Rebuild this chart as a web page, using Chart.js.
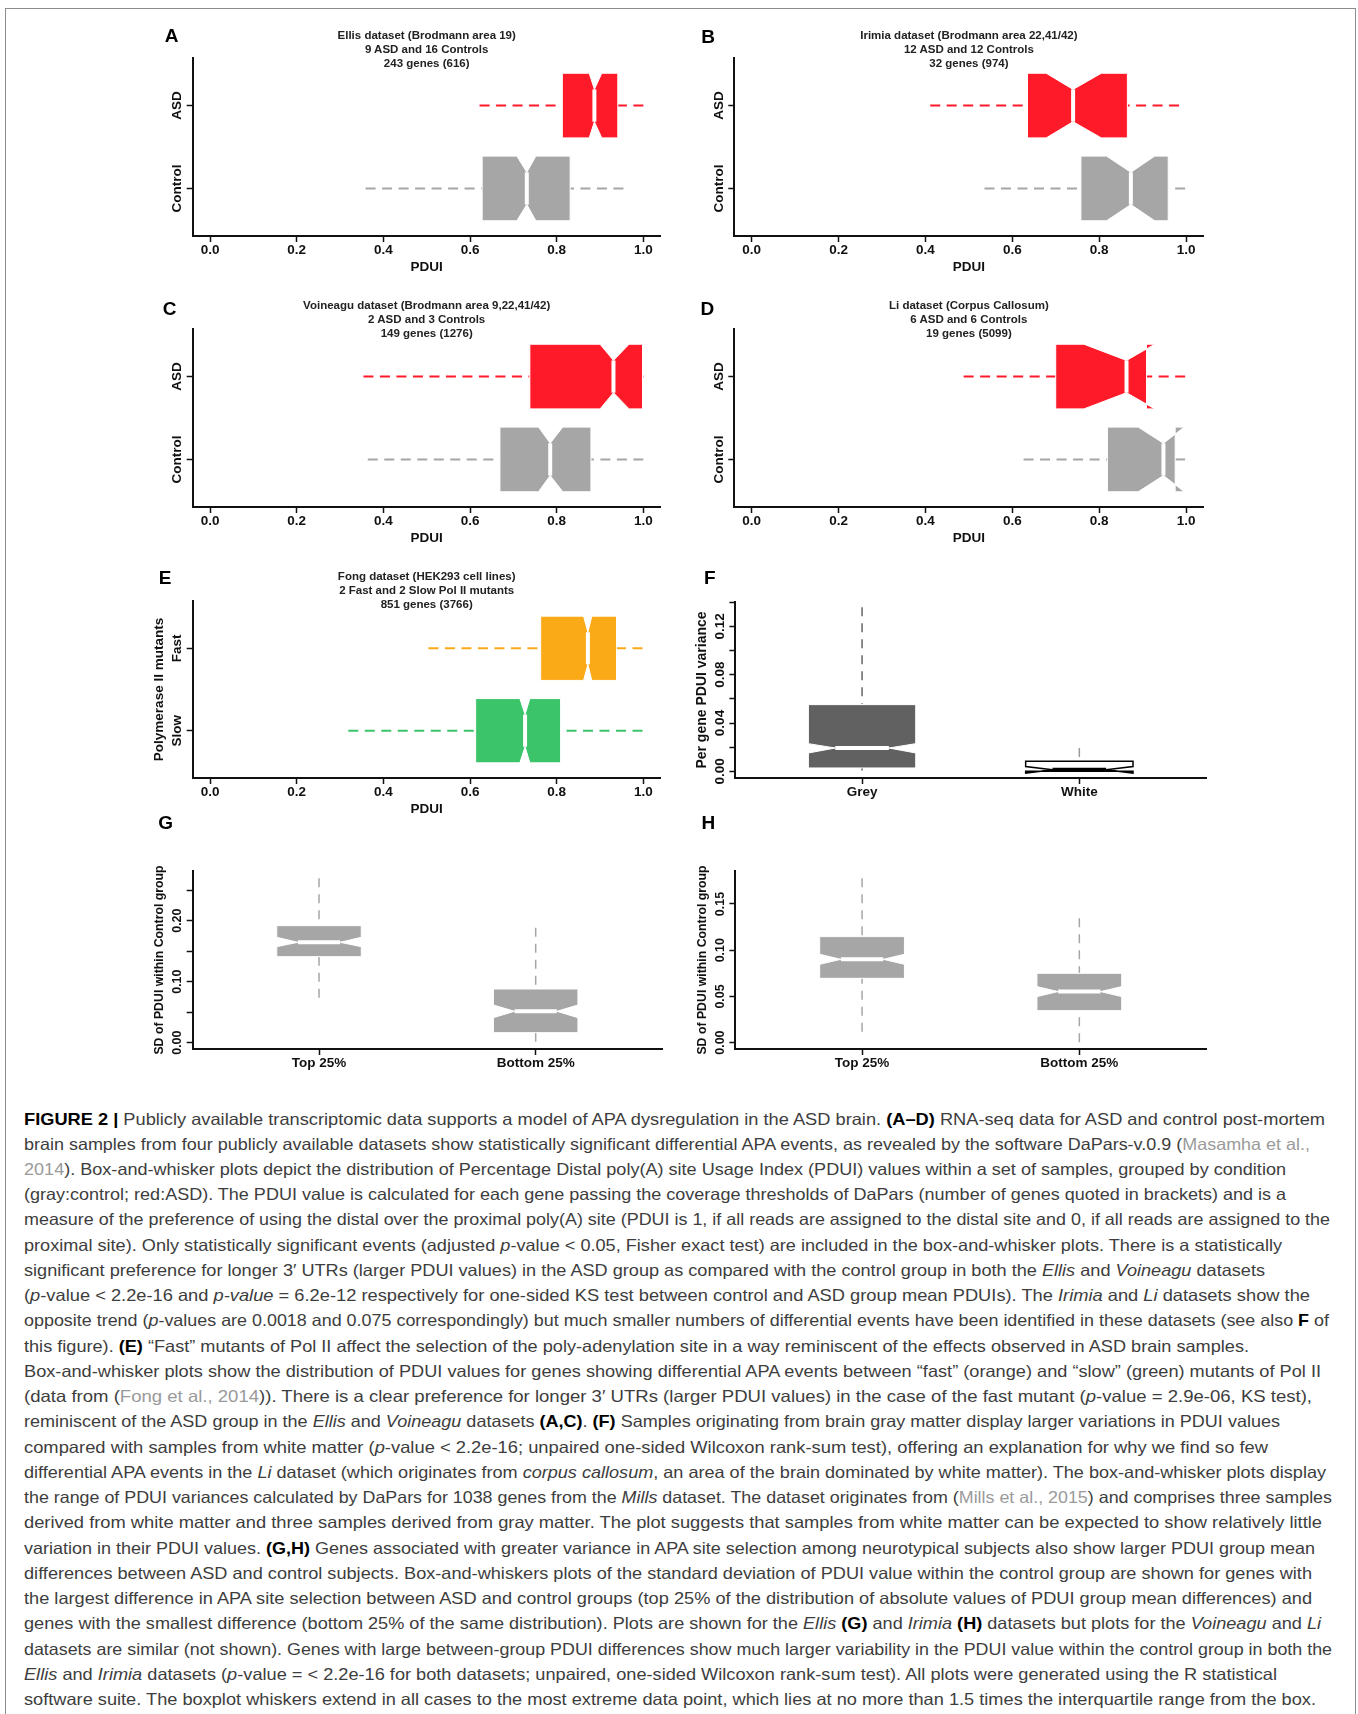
<!DOCTYPE html>
<html>
<head>
<meta charset="utf-8">
<script src="https://cdn.jsdelivr.net/npm/chart.js@4.4.0/dist/chart.umd.min.js"></script>
<style>
  html, body { margin: 0; padding: 0; background: #fff; }
  body { width: 1358px; height: 1714px; position: relative; overflow: hidden;
         font-family: "Liberation Sans", Arial, Helvetica, sans-serif; }
  #frame { position: absolute; left: 5px; top: 8px; width: 1351px; height: 1720px;
           border: 1px solid #8c8c8c; box-sizing: border-box; }
  canvas { position: absolute; }
  .letter { position: absolute; font-weight: bold; font-size: 19px; color: #000;
            transform: translate(-50%, -50%); line-height: 1; }
  .ptitle { position: absolute; font-weight: bold; font-size: 11.5px; line-height: 14.2px;
            color: #222; text-align: center; transform: translateX(-50%); white-space: nowrap; }
  .cap { position: absolute; left: 24px; white-space: nowrap; font-size: 16.5px;
         line-height: 20px; color: #3d3d3d; transform-origin: 0 50%; }
  .cap b { color: #000; }
  .cap .ref { color: #9a9a9a; }
</style>
</head>
<body>
<div id="frame"></div>
<script>
// every box: [whisker low, Q1, notch low, median, notch high, Q3, whisker high]
const pduiTicks = [0, 0.2, 0.4, 0.6, 0.8, 1.0];
const pduiTickLabels = ["0.0", "0.2", "0.4", "0.6", "0.8", "1.0"];
const asdCategories = ["Control", "ASD"];
const polCategories = ["Slow", "Fast"];

const ellisControl = [0.359, 0.628, 0.708, 0.731, 0.752, 0.831, 0.954];
const ellisAsd = [0.622, 0.813, 0.875, 0.887, 0.904, 0.941, 1.0];
const irimiaControl = [0.536, 0.758, 0.817, 0.873, 0.928, 0.959, 0.998];
const irimiaAsd = [0.411, 0.635, 0.678, 0.740, 0.805, 0.865, 0.984];
const voineaguControl = [0.364, 0.669, 0.758, 0.785, 0.814, 0.879, 1.0];
const voineaguAsd = [0.354, 0.738, 0.900, 0.931, 0.967, 0.998, 1.0];
const liControl = [0.626, 0.819, 0.890, 0.948, 0.996, 0.975, 0.998];
const liAsd = [0.488, 0.700, 0.765, 0.863, 0.928, 0.909, 0.998];
const fongSlow = [0.319, 0.613, 0.715, 0.727, 0.738, 0.809, 0.998];
const fongFast = [0.504, 0.763, 0.862, 0.872, 0.881, 0.938, 0.998];

const matterCategories = ["Grey", "White"];
const matterGrey = [0.0008, 0.0028, 0.0152, 0.0193, 0.0229, 0.0552, 0.1357];
const matterWhite = [0.0, 0.0, -0.0014, 0.0013, 0.0040, 0.0083, 0.0193];
const varianceTicks = [0, 0.02, 0.04, 0.06, 0.08, 0.10, 0.12, 0.14];
const varianceTickLabels = ["0.00", "", "0.04", "", "0.08", "", "0.12", ""];

const diffCategories = ["Top 25%", "Bottom 25%"];
const ellisSdTop = [0.0738, 0.141, 0.1574, 0.1645, 0.1727, 0.1918, 0.2694];
const ellisSdBottom = [0.0016, 0.0164, 0.041, 0.0514, 0.0617, 0.088, 0.1885];
const irimiaSdTop = [0.0119, 0.0696, 0.0847, 0.0901, 0.0956, 0.1147, 0.1778];
const irimiaSdBottom = [0.0004, 0.0346, 0.0498, 0.0552, 0.0606, 0.075, 0.1345];
const sdTicksG = [0, 0.05, 0.10, 0.15, 0.20, 0.25];
const sdTickLabelsG = ["0.00", "", "0.10", "", "0.20", ""];
const sdTicksH = [0, 0.05, 0.10, 0.15];
const sdTickLabelsH = ["0.00", "0.05", "0.10", "0.15"];

const FONT = '"Liberation Sans", Arial, Helvetica, sans-serif';
const RED = "#ff1a2a";
const GREY = "#a6a6a6";
const ORANGE = "#fbaa17";
const GREEN = "#3cc46b";
const DARK = "#616161";

Chart.defaults.font.family = FONT;
Chart.defaults.color = "#111";

// draws notched boxes from the pixel positions chart.js gave each stat point
const notched_boxes = (horizontal) => ({
  id: "notchedBoxes",
  afterDatasetsDraw(chart) {
    const { ctx } = chart;
    const catScale = horizontal ? chart.scales.y : chart.scales.x;
    chart.data.datasets.forEach((ds, i) => {
      const pts = chart.getDatasetMeta(i).data;
      const v = pts.map((p) => (horizontal ? p.x : p.y));
      const c = horizontal ? pts[0].y : pts[0].x;
      const h = Math.abs(catScale.getPixelForValue(ds.pos + ds.halfWidth) - c);
      const at = (val, off) => (horizontal ? [val, c + off] : [c + off, val]);
      ctx.save();
      ctx.strokeStyle = ds.whiskerColor;
      ctx.lineWidth = ds.whiskerWidth;
      ctx.setLineDash(ds.dash);
      [[0, 1], [6, 5]].forEach(([a, b]) => {
        ctx.beginPath();
        ctx.moveTo(...at(v[a], 0));
        ctx.lineTo(...at(v[b], 0));
        ctx.stroke();
      });
      ctx.setLineDash([]);
      const outline = [[1, -h], [2, -h], [3, -h / 2], [4, -h], [5, -h],
                       [5, h], [4, h], [3, h / 2], [2, h], [1, h]];
      ctx.beginPath();
      outline.forEach(([k, off], j) => {
        const [x, y] = at(v[k], off);
        if (j) ctx.lineTo(x, y); else ctx.moveTo(x, y);
      });
      ctx.closePath();
      ctx.fillStyle = ds.boxColor;
      ctx.fill();
      ctx.strokeStyle = ds.edgeColor;
      ctx.lineWidth = ds.edgeWidth;
      ctx.stroke();
      ctx.lineWidth = 4;
      ctx.beginPath();
      ctx.moveTo(...at(v[3], -h / 2));
      ctx.lineTo(...at(v[3], h / 2));
      ctx.stroke();
      ctx.restore();
    });
  },
});

// y tick labels in R are parallel to the axis
const rotated_y_ticks = (values, labels, size) => ({
  id: "rotatedYTicks",
  afterDraw(chart) {
    const scale = chart.scales.y;
    const { ctx } = chart;
    ctx.save();
    ctx.font = `bold ${size}px ${FONT}`;
    ctx.fillStyle = "#111";
    ctx.textAlign = "center";
    ctx.textBaseline = "middle";
    values.forEach((value, i) => {
      if (!labels[i]) return;
      ctx.save();
      ctx.translate(scale.right - 15, scale.getPixelForValue(value));
      ctx.rotate(-Math.PI / 2);
      ctx.fillText(labels[i], 0, 0);
      ctx.restore();
    });
    ctx.restore();
  },
});

const axis_style = {
  grid: { drawOnChartArea: false, drawTicks: true, tickLength: 6, tickWidth: 1.5, tickColor: "#111" },
  border: { display: true, color: "#111", width: 2 },
};

const draw_panel = (p) => {
  const [x0, x1] = p.canvasX;
  const y0 = p.area.top - 40;
  const y1 = p.area.bottom + 44;
  const canvas = document.createElement("canvas");
  canvas.width = x1 - x0;
  canvas.height = y1 - y0;
  canvas.style.left = `${x0}px`;
  canvas.style.top = `${y0}px`;
  document.body.appendChild(canvas);

  const horizontal = p.horizontal;
  const valueTicks = p.valueTicks;
  const catTicks = p.categories.map((c, i) => i + 1);

  const xTicks = horizontal ? valueTicks : catTicks;
  const xLabels = horizontal ? p.valueLabels : p.categories;
  const yTicks = horizontal ? catTicks : valueTicks;
  const yLabels = horizontal ? p.categories : p.valueLabels;

  const datasets = p.boxes.map((box, i) => ({
    data: box.stats.map((v) => (horizontal ? { x: v, y: i + 1 } : { x: i + 1, y: v })),
    pos: i + 1,
    halfWidth: p.halfWidth,
    boxColor: box.fill,
    edgeColor: box.edge || "#fff",
    edgeWidth: box.edgeWidth || 1,
    whiskerColor: box.whisker || box.fill,
    whiskerWidth: p.whiskerWidth,
    dash: p.dash,
    pointRadius: 0,
    pointHoverRadius: 0,
  }));

  const yTitlePad = p.area.left - 33 - x0 - (p.yTitleSize || 13.5) * 0.6;

  return new Chart(canvas, {
    type: "scatter",
    data: { datasets },
    options: {
      responsive: false,
      animation: false,
      events: [],
      layout: { padding: { left: 0, right: x1 - p.area.right, top: 40, bottom: 0 } },
      plugins: { legend: { display: false }, tooltip: { enabled: false } },
      scales: {
        x: {
          type: "linear",
          min: horizontal ? p.valueRange[0] : p.catRange[0],
          max: horizontal ? p.valueRange[1] : p.catRange[1],
          bounds: "data",
          afterBuildTicks: (s) => { s.ticks = xTicks.map((v) => ({ value: v })); },
          afterFit: (s) => { s.height = 44; },
          ticks: {
            autoSkip: false, maxRotation: 0, minRotation: 0, padding: 0, color: "#111",
            font: { weight: "bold", size: 13.5 },
            callback: (v, i) => xLabels[i],
          },
          ...axis_style,
          title: {
            display: !!p.xTitle, text: p.xTitle || "", color: "#111",
            font: { weight: "bold", size: 13.5 }, padding: { top: 0, bottom: 4.5 },
          },
        },
        y: {
          type: "linear",
          min: horizontal ? p.catRange[0] : p.valueRange[0],
          max: horizontal ? p.catRange[1] : p.valueRange[1],
          bounds: "data",
          afterBuildTicks: (s) => { s.ticks = yTicks.map((v) => ({ value: v })); },
          afterFit: (s) => { s.width = p.area.left - x0; },
          ticks: { display: false },
          ...axis_style,
          title: {
            display: !!p.yTitle, text: p.yTitle || "", color: "#111",
            font: { weight: "bold", size: p.yTitleSize || 13.5 },
            padding: { top: yTitlePad, bottom: 0 },
          },
        },
      },
    },
    plugins: [notched_boxes(horizontal), rotated_y_ticks(yTicks, yLabels, p.yTickSize || 13.5)],
  });
};

const LEFT_COL = [130, 675];
const RIGHT_COL = [675, 1228];

const pdui_panel = (canvasX, area, categories, boxes, yTitle) => ({
  canvasX, area, categories, boxes, yTitle,
  horizontal: true,
  valueTicks: pduiTicks, valueLabels: pduiTickLabels,
  valueRange: [-0.04, 1.04], catRange: [0.426, 2.574],
  halfWidth: 0.39, whiskerWidth: 2, dash: [10, 6.5],
  xTitle: "PDUI",
});

draw_panel(pdui_panel(LEFT_COL, { left: 192.7, right: 660.7, top: 58.3, bottom: 236.7 },
  asdCategories, [{ stats: ellisControl, fill: GREY }, { stats: ellisAsd, fill: RED }]));
draw_panel(pdui_panel(RIGHT_COL, { left: 734.3, right: 1203.4, top: 58.3, bottom: 236.7 },
  asdCategories, [{ stats: irimiaControl, fill: GREY }, { stats: irimiaAsd, fill: RED }]));
draw_panel(pdui_panel(LEFT_COL, { left: 192.7, right: 660.7, top: 329.3, bottom: 508 },
  asdCategories, [{ stats: voineaguControl, fill: GREY }, { stats: voineaguAsd, fill: RED }]));
draw_panel(pdui_panel(RIGHT_COL, { left: 734.3, right: 1203.4, top: 329.3, bottom: 508 },
  asdCategories, [{ stats: liControl, fill: GREY }, { stats: liAsd, fill: RED }]));
draw_panel(pdui_panel(LEFT_COL, { left: 192.7, right: 660.7, top: 601, bottom: 778.3 },
  polCategories, [{ stats: fongSlow, fill: GREEN }, { stats: fongFast, fill: ORANGE }],
  "Polymerase II mutants"));

draw_panel({
  canvasX: RIGHT_COL, area: { left: 735.4, right: 1206, top: 602.3, bottom: 778.3 },
  horizontal: false, categories: matterCategories,
  boxes: [
    { stats: matterGrey, fill: DARK, whisker: "#666" },
    { stats: matterWhite, fill: "#fff", edge: "#000", edgeWidth: 1.5, whisker: "#999" },
  ],
  valueTicks: varianceTicks, valueLabels: varianceTickLabels,
  valueRange: [-0.0055, 0.1401], catRange: [0.417, 2.583],
  halfWidth: 0.247, whiskerWidth: 1.5, dash: [9, 7],
  yTitle: "Per gene PDUI variance", yTitleSize: 14, yTickSize: 13.5,
});

const sd_panel = (canvasX, area, boxes, ticks, labels, range) => ({
  canvasX, area, boxes,
  horizontal: false, categories: diffCategories,
  valueTicks: ticks, valueLabels: labels,
  valueRange: range, catRange: [0.417, 2.583],
  halfWidth: 0.195, whiskerWidth: 1.5, dash: [9, 7],
  yTitle: "SD of PDUI within Control group", yTitleSize: 12.3, yTickSize: 12.5,
});

draw_panel(sd_panel(LEFT_COL, { left: 192.7, right: 662, top: 871, bottom: 1049 },
  [{ stats: ellisSdTop, fill: GREY }, { stats: ellisSdBottom, fill: GREY }],
  sdTicksG, sdTickLabelsG, [-0.0104, 0.2814]));
draw_panel(sd_panel(RIGHT_COL, { left: 735.4, right: 1206, top: 871, bottom: 1049 },
  [{ stats: irimiaSdTop, fill: GREY }, { stats: irimiaSdBottom, fill: GREY }],
  sdTicksH, sdTickLabelsH, [-0.0069, 0.1857]));

// panel letters and titles
const letters = [
  ["A", 171.7, 35], ["B", 708, 35.7], ["C", 169.7, 308.3], ["D", 707.3, 308],
  ["E", 165, 576.7], ["F", 709.8, 577], ["G", 165.7, 821.7], ["H", 708.4, 822],
];
letters.forEach(([t, x, y]) => {
  const el = document.createElement("div");
  el.className = "letter";
  el.textContent = t;
  el.style.left = `${x}px`;
  el.style.top = `${y}px`;
  document.body.appendChild(el);
});

const titles = [
  [426.7, 35, ["Ellis dataset (Brodmann area 19)", "9 ASD and 16 Controls", "243 genes (616)"]],
  [968.9, 35, ["Irimia dataset (Brodmann area 22,41/42)", "12 ASD and 12 Controls", "32 genes (974)"]],
  [426.7, 305, ["Voineagu dataset (Brodmann area 9,22,41/42)", "2 ASD and 3 Controls", "149 genes (1276)"]],
  [968.9, 305, ["Li dataset (Corpus Callosum)", "6 ASD and 6 Controls", "19 genes (5099)"]],
  [426.7, 575.7, ["Fong dataset (HEK293 cell lines)", "2 Fast and 2 Slow Pol II mutants", "851 genes (3766)"]],
];
titles.forEach(([x, y, lines]) => {
  const el = document.createElement("div");
  el.className = "ptitle";
  el.innerHTML = lines.join("<br>");
  el.style.left = `${x}px`;
  el.style.top = `${y - 7.1}px`;
  document.body.appendChild(el);
});

// caption
const captionLines = [
  '<b>FIGURE 2 |</b> Publicly available transcriptomic data supports a model of APA dysregulation in the ASD brain. <b>(A–D)</b> RNA-seq data for ASD and control post-mortem',
  'brain samples from four publicly available datasets show statistically significant differential APA events, as revealed by the software DaPars-v.0.9 (<span class="ref">Masamha et al.,</span>',
  '<span class="ref">2014</span>). Box-and-whisker plots depict the distribution of Percentage Distal poly(A) site Usage Index (PDUI) values within a set of samples, grouped by condition',
  '(gray:control; red:ASD). The PDUI value is calculated for each gene passing the coverage thresholds of DaPars (number of genes quoted in brackets) and is a',
  'measure of the preference of using the distal over the proximal poly(A) site (PDUI is 1, if all reads are assigned to the distal site and 0, if all reads are assigned to the',
  'proximal site). Only statistically significant events (adjusted <i>p</i>-value &lt; 0.05, Fisher exact test) are included in the box-and-whisker plots. There is a statistically',
  'significant preference for longer 3′ UTRs (larger PDUI values) in the ASD group as compared with the control group in both the <i>Ellis</i> and <i>Voineagu</i> datasets',
  '(<i>p</i>-value &lt; 2.2e-16 and <i>p-value</i> = 6.2e-12 respectively for one-sided KS test between control and ASD group mean PDUIs). The <i>Irimia</i> and <i>Li</i> datasets show the',
  'opposite trend (<i>p</i>-values are 0.0018 and 0.075 correspondingly) but much smaller numbers of differential events have been identified in these datasets (see also <b>F</b> of',
  'this figure). <b>(E)</b> “Fast” mutants of Pol II affect the selection of the poly-adenylation site in a way reminiscent of the effects observed in ASD brain samples.',
  'Box-and-whisker plots show the distribution of PDUI values for genes showing differential APA events between “fast” (orange) and “slow” (green) mutants of Pol II',
  '(data from (<span class="ref">Fong et al., 2014</span>)). There is a clear preference for longer 3′ UTRs (larger PDUI values) in the case of the fast mutant (<i>p</i>-value = 2.9e-06, KS test),',
  'reminiscent of the ASD group in the <i>Ellis</i> and <i>Voineagu</i> datasets <b>(A,C)</b>. <b>(F)</b> Samples originating from brain gray matter display larger variations in PDUI values',
  'compared with samples from white matter (<i>p</i>-value &lt; 2.2e-16; unpaired one-sided Wilcoxon rank-sum test), offering an explanation for why we find so few',
  'differential APA events in the <i>Li</i> dataset (which originates from <i>corpus callosum</i>, an area of the brain dominated by white matter). The box-and-whisker plots display',
  'the range of PDUI variances calculated by DaPars for 1038 genes from the <i>Mills</i> dataset. The dataset originates from (<span class="ref">Mills et al., 2015</span>) and comprises three samples',
  'derived from white matter and three samples derived from gray matter. The plot suggests that samples from white matter can be expected to show relatively little',
  'variation in their PDUI values. <b>(G,H)</b> Genes associated with greater variance in APA site selection among neurotypical subjects also show larger PDUI group mean',
  'differences between ASD and control subjects. Box-and-whiskers plots of the standard deviation of PDUI value within the control group are shown for genes with',
  'the largest difference in APA site selection between ASD and control groups (top 25% of the distribution of absolute values of PDUI group mean differences) and',
  'genes with the smallest difference (bottom 25% of the same distribution). Plots are shown for the <i>Ellis</i> <b>(G)</b> and <i>Irimia</i> <b>(H)</b> datasets but plots for the <i>Voineagu</i> and <i>Li</i>',
  'datasets are similar (not shown). Genes with large between-group PDUI differences show much larger variability in the PDUI value within the control group in both the',
  '<i>Ellis</i> and <i>Irimia</i> datasets (<i>p</i>-value = &lt; 2.2e-16 for both datasets; unpaired, one-sided Wilcoxon rank-sum test). All plots were generated using the R statistical',
  'software suite. The boxplot whiskers extend in all cases to the most extreme data point, which lies at no more than 1.5 times the interquartile range from the box.',
];
const captionEnds = [1325, 1310, 1286, 1286, 1330, 1282, 1265, 1310, 1329, 1249, 1321, 1312,
  1280, 1268, 1326, 1332, 1322, 1315, 1312, 1312, 1321, 1332, 1277, 1316];

captionLines.forEach((html, i) => {
  const el = document.createElement("div");
  el.className = "cap";
  el.innerHTML = html;
  el.style.top = `${1118.5 + i * 25.24 - 10}px`;
  document.body.appendChild(el);
  const w = el.getBoundingClientRect().width;
  el.style.transform = `scaleX(${(captionEnds[i] - 24) / w})`;
});
</script>
</body>
</html>
